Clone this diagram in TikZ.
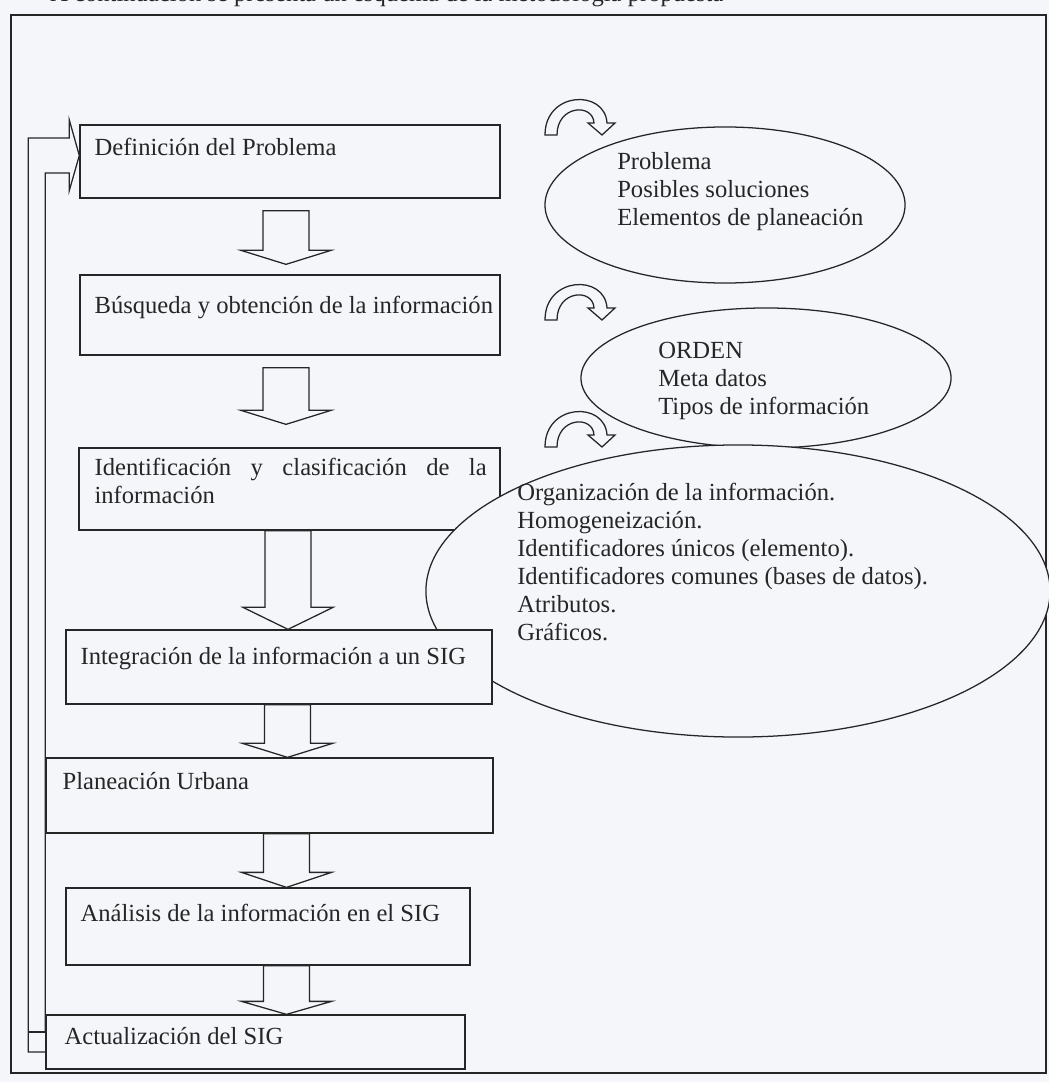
\documentclass[tikz,border=0pt]{standalone}
\usepackage{fontspec}
\setmainfont{Liberation Serif}
\usetikzlibrary{shapes.geometric,calc}

\definecolor{paper}{RGB}{244,246,250}
\definecolor{ink}{RGB}{38,38,38}

% hollow arrow pointing down: [head depth]{stem top}{tip}
\newcommand{\blockdown}[3][14]{%
  \draw[block] let \p1=#2, \p2=#3 in
    (\x1-0.575cm,\y1) -- (\x1+0.575cm,\y1) -- (\x1+0.575cm,\y2+#1*0.025cm)
    -- (\x1+1.125cm,\y2+#1*0.025cm) -- (\x1,\y2) -- (\x1-1.125cm,\y2+#1*0.025cm)
    -- (\x1-0.575cm,\y2+#1*0.025cm) -- cycle;}

% curved hollow arrow, given by its tip
\newcommand{\curlarrow}[1]{%
  \begin{scope}[shift={#1}]
    \draw[curl] (-57,0) .. controls (-57,-44) and (3,-46) .. (5,-12) -- (13,-12)
      -- (0,0) -- (-14,-12) -- (-8,-12) .. controls (-9,-32) and (-45,-30) .. (-45,0) -- cycle;
  \end{scope}}

\begin{document}
\begin{tikzpicture}[x=0.025cm,y=-0.025cm,line join=miter]
        \tikzstyle{every node}=[font=\fontsize{17.5}{19.9}\selectfont, text=ink]
        \tikzstyle{frame}=[draw=ink, line width=0.9pt]
        \tikzstyle{box}=[draw=ink, fill=paper, line width=0.9pt, inner sep=0pt]
        \tikzstyle{bubble}=[ellipse, draw=ink, fill=paper, line width=0.9pt, inner sep=0pt]
        \tikzstyle{lbl}=[anchor=base west, inner sep=0pt]
        \tikzstyle{note}=[anchor=north west, align=left, inner sep=0pt]
        \tikzstyle{block}=[draw=ink, fill=paper, line width=0.9pt]
        \tikzstyle{curl}=[draw=ink, fill=paper, line width=0.9pt]
        \tikzstyle{loop}=[draw=ink, line width=0.9pt]

        \fill[paper] (0,0) rectangle (1049,1082);
        \useasboundingbox (0,0) rectangle (1049,1082);

        \node [lbl] (cap) at (50,2) {A continuación se presenta un esquema de la metodología propuesta};
        \draw [frame] (11,15) rectangle (1046,1073);

        % steps
        \node [box, minimum width=10.5cm, minimum height=1.825cm] (b1) at (290,161.5) {};
        \node [lbl] (t1) at ($(b1.west)+(15,-5.5)$) {Definición del Problema};
        \node [box, minimum width=10.5cm, minimum height=2cm] (b2) at (290,315) {};
        \node [lbl] (t2) at ($(b2.west)+(15,-1)$) {Búsqueda y obtención de la información};
        \node [box, minimum width=10.525cm, minimum height=2.05cm] (b3) at (289.5,489) {};
        \node [note, align=justify, text width=9.8cm] (t3) at ($(b3.north west)+(16,11)$)
              {Identificación y clasificación de la \mbox{información}};

        % notes
        \node [bubble, minimum width=9cm, minimum height=3.9cm] (e1) at (725,205) {};
        \node [note] (n1) at (617,152) {Problema\\Posibles soluciones\\Elementos de planeación};
        \node [bubble, minimum width=9.25cm, minimum height=3.5cm] (e2) at (766,378) {};
        \node [note] (n2) at (658,342) {ORDEN\\Meta datos\\Tipos de información};

        \coordinate (u1) at (602,135);
        \coordinate (u2) at (602,320);
        \coordinate (u3) at (602,447);
        \curlarrow{(u1)}
        \curlarrow{(u2)}
        \curlarrow{(u3)}

        \node [bubble, minimum width=15.6cm, minimum height=7.3cm] (e3) at (738,591) {};
        \node [note] (n3) at (517,483) {Organización de la información.\\Homogeneización.\\
              Identificadores únicos (elemento).\\Identificadores comunes (bases de datos).\\
              Atributos.\\Gráficos.};

        \node [box, minimum width=10.65cm, minimum height=1.85cm] (b4) at (279,667) {};
        \node [lbl] (t4) at ($(b4.west)+(15,-3)$) {Integración de la información a un SIG};
        \node [box, minimum width=11.175cm, minimum height=1.875cm] (b5) at (269.5,795.5) {};
        \node [lbl] (t5) at ($(b5.west)+(17,-6.5)$) {Planeación Urbana};
        \node [box, minimum width=10.1cm, minimum height=1.925cm] (b6) at (268,926.5) {};
        \node [lbl] (t6) at ($(b6.west)+(15,-5.5)$) {Análisis de la información en el SIG};
        \node [box, minimum width=10.475cm, minimum height=1.35cm] (b7) at (255.5,1042) {};
        \node [lbl] (t7) at ($(b7.west)+(19,2)$) {Actualización del SIG};

        % flow
        \blockdown{($(b1.south)+(-4,12)$)}{($(b2.north)+(-4,-10)$)}
        \blockdown{($(b2.south)+(-4,12)$)}{($(b3.north)+(-3.5,-23)$)}
        \blockdown[22]{($(b3.south)+(-1.5,0)$)}{($(b4.north)+(9,0)$)}
        \blockdown{($(b4.south)+(8.5,0)$)}{($(b5.north)+(18,0)$)}
        \blockdown[15]{($(b5.south)+(17,0)$)}{($(b6.north)+(18.5,0)$)}
        \blockdown[13]{($(b6.south)+(18.5,0)$)}{($(b7.north)+(31,0)$)}

        % feedback
        \coordinate (fbin) at ($(b7.west)+(0,10)$);
        \coordinate (fbtop) at ($(b7.west)+(0,-10)$);
        \coordinate (fbtip) at ($(b1.west)+(0,-6)$);
        \path[loop] (fbin) -- ++(-17,0) |- ($(fbtip)+(-10,-17.5)$) -- ++(0,-18) -- (fbtip)
              -- ($(fbtip)+(-10,35)$) -- ++(0,-17.5) -| (fbtop);
        \path[loop] (fbtop) -- ++(-17,0);
\end{tikzpicture}
\end{document}
